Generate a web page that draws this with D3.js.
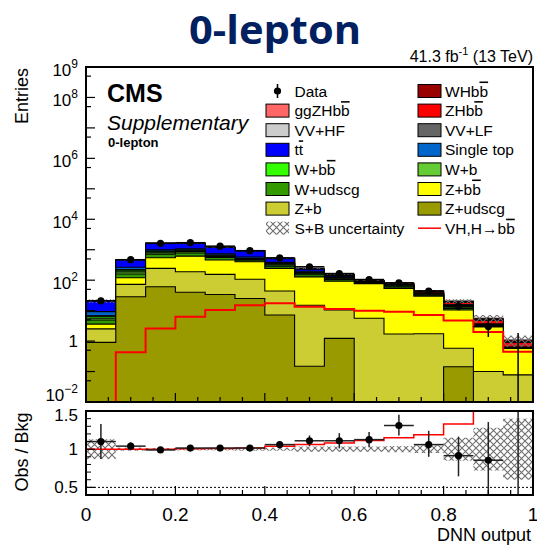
<!DOCTYPE html>
<html><head><meta charset="utf-8">
<script src="https://cdn.jsdelivr.net/npm/d3@7"></script>
<style>body{margin:0;background:#fff} svg{display:block} text{font-family:"Liberation Sans",Arial,Helvetica,sans-serif}</style>
</head><body><svg id="c" width="537" height="547"></svg>
<script>
// ---------------- DATA ----------------
const nBins = 15;
const dataVals  = [21, 470, 1620, 1700, 1310, 930, 540, 275, 165, 105, 82, 44, 14, 3, 0];
const dataErrHi = [5.6, 22.7, 40.7, 41.7, 37, 31, 24, 17, 13.9, 11.3, 10.1, 7.7, 4.8, 2.92, 1.84];
const dataErrLo = [4.5, 21.7, 39.7, 40.7, 36, 30, 23, 16, 12.8, 10.2, 9.0, 6.6, 3.7, 1.63, 0];

const zudscg = [0.91, 28.6, 61, 40, 34, 25, 7.2, 0.15, 1.23, 0, 0, 0, 0.144, 0, 0];
const zb     = [1.6, 44.4, 183, 150, 121, 82, 36.8, 14.85, 9.27, 5.6, 1.7, 1.75, 0.436, 0.1, 0.078];
const zbb    = [1.1, 47, 302, 425, 305, 298, 201, 113, 82.5, 71.4, 52.3, 28.25, 9.92, 2.85, 0.492];
const wudscg = [1.3, 40, 170, 170, 100, 50, 45, 22, 12, 3, 6, 2, 1.2, 0.2, 0.02];
const wb     = [0.7, 28, 80, 80, 45, 25, 25, 10, 6, 1.5, 3, 1, 0.8, 0.1, 0.01];
const wbb    = [0.7, 25, 64, 65, 30, 20, 20, 8, 5, 1.5, 3, 1.5, 1.2, 0.15, 0.015];
const vvlf   = [0.3, 8, 25, 25, 20, 15, 12, 8, 5, 1.5, 2, 1.5, 1.0, 0.1, 0.01];
const vvhf   = [0.2, 4, 15, 15, 12, 10, 8, 5, 3, 1, 1.5, 1, 0.8, 0.07, 0.005];
const stop   = [2.5, 40, 100, 100, 73, 50, 30, 15, 6, 1.5, 0.5, 0.3, 0.15, 0.01, 0];
const ttbar  = [11.4, 194, 617, 544, 450, 340, 122, 35.5, 13.7, 3, 0.8, 0.5, 0.25, 0.02, 0];
const zhbb   = [0, 0.26, 1.56, 3.8, 6.3, 9.0, 10.5, 8.1, 6.8, 6.0, 5.5, 4.3, 2.8, 1.2, 0.27];
const ggzhbb = [0, 0.06, 0.39, 0.9, 1.6, 2.25, 2.6, 2.0, 1.7, 1.5, 1.4, 1.1, 0.7, 0.3, 0.07];
const whbb   = [0, 0.11, 0.65, 1.6, 2.6, 3.75, 4.4, 3.4, 2.8, 2.5, 2.3, 1.8, 1.2, 0.5, 0.11];
const vhLine = [0, 0.43, 2.6, 6.3, 10.5, 15.0, 17.5, 13.5, 11.3, 10.0, 9.2, 7.2, 4.7, 2.0, 0.45];
const relUnc = [0.13, 0.02, 0.015, 0.015, 0.015, 0.02, 0.02, 0.035, 0.035, 0.035, 0.04, 0.05, 0.15, 0.28, 0.40];

const ratioData  = [1.10, 1.04, 0.99, 1.015, 1.015, 1.015, 1.06, 1.11, 1.11, 1.125, 1.31, 1.06, 0.915, 0.855, 0];
const ratioErrHi = [0.23, 0.05, 0.025, 0.025, 0.03, 0.035, 0.045, 0.07, 0.1, 0.1, 0.14, 0.18, 0.25, 0.5, 2.9];
const ratioErrLo = [0.23, 0.05, 0.025, 0.025, 0.03, 0.035, 0.045, 0.07, 0.1, 0.1, 0.13, 0.16, 0.27, 0.45, 0];
const ratioSig   = [1.0, 1.0, 1.0, 1.005, 1.01, 1.015, 1.04, 1.06, 1.08, 1.115, 1.15, 1.19, 1.33, 1.56, 1.72];

const xTickVals = [0, 0.2, 0.4, 0.6, 0.8, 1];
const xTickLabels = ["0", "0.2", "0.4", "0.6", "0.8", "1"];
const yLabelVals = [1e9, 1e8, 1e6, 1e4, 1e2, 1, 1e-2];
const yLabelExp  = ["9", "8", "6", "4", "2", "", "\u22122"];
const rTickVals = [0.5, 1, 1.5];
const rTickLabels = ["0.5", "1", "1.5"];

// stack, bottom to top
const comps = [
  {name:"Z+udscg", color:"#999900", vals:zudscg},
  {name:"Z+b", color:"#cccc33", vals:zb},
  {name:"Z+b{b}", color:"#ffff00", vals:zbb},
  {name:"W+udscg", color:"#339900", vals:wudscg},
  {name:"W+b", color:"#66cc33", vals:wb},
  {name:"W+b{b}", color:"#33ff00", vals:wbb},
  {name:"VV+LF", color:"#666666", vals:vvlf},
  {name:"VV+HF", color:"#cccccc", vals:vvhf},
  {name:"Single top", color:"#0066cc", vals:stop},
  {name:"t{t}", color:"#0000ff", vals:ttbar},
  {name:"ZHb{b}", color:"#ff0000", vals:zhbb},
  {name:"ggZHb{b}", color:"#ff6666", vals:ggzhbb},
  {name:"WHb{b}", color:"#990000", vals:whbb}
];

// ---------------- LAYOUT ----------------
const L = 86, R = 533, T = 67, B = 402, RT = 411, RB = 495;
const edges = d3.range(nBins + 1).map(i => i / nBins);
const x = d3.scaleLinear().domain([0, 1]).range([L, R]);
const y = d3.scaleLog().domain([1e-2, 1e9]).range([B, T]).clamp(true);
const yr = d3.scaleLinear().domain([0.4, 1.5]).range([RB, RT]);
const yv = v => y(Math.max(v, 1e-4));

const svg = d3.select("#c");
svg.append("rect").attr("width", 537).attr("height", 547).attr("fill", "#fff");
const defs = svg.append("defs");
const pat = defs.append("pattern").attr("id", "hatch").attr("patternUnits", "userSpaceOnUse").attr("width", 7).attr("height", 7);
pat.append("path").attr("d", "M-1,-1L8,8M8,-1L-1,8").attr("stroke", "#6e6e6e").attr("stroke-width", 1.1).attr("fill", "none");
defs.append("clipPath").attr("id", "clipTop").append("rect").attr("x", L).attr("y", T).attr("width", R - L).attr("height", B - T);
defs.append("clipPath").attr("id", "clipRat").append("rect").attr("x", L).attr("y", RT).attr("width", R - L).attr("height", RB - RT);

// cumulative
let cum = new Array(nBins).fill(0);
const cums = comps.map(c => { cum = cum.map((v, i) => v + c.vals[i]); return cum.slice(); });
const total = cums[cums.length - 1];

const stepPts = vals => edges.map((e, i) => ({e, v: vals[Math.min(i, nBins - 1)]}));
const areaTop = d3.area().curve(d3.curveStepAfter).x(d => x(d.e)).y0(B).y1(d => yv(d.v));

const gTop = svg.append("g").attr("clip-path", "url(#clipTop)");
for (let k = comps.length - 1; k >= 0; k--) {
  gTop.append("path").attr("d", areaTop(stepPts(cums[k]))).attr("fill", comps[k].color)
    .attr("stroke", "#000").attr("stroke-width", 1.1);
}
// uncertainty band
gTop.selectAll("rect.unc").data(d3.range(nBins)).join("rect").attr("class", "unc")
  .attr("x", i => x(edges[i])).attr("width", i => x(edges[i + 1]) - x(edges[i]))
  .attr("y", i => yv(total[i] * (1 + relUnc[i])))
  .attr("height", i => yv(total[i] * (1 - relUnc[i])) - yv(total[i] * (1 + relUnc[i])))
  .attr("fill", "url(#hatch)");
// signal line
gTop.append("path").attr("d", d3.line().x(d => x(d.e)).y(d => yv(d.v)).curve(d3.curveStepAfter)(stepPts(vhLine)))
  .attr("fill", "none").attr("stroke", "#ff0000").attr("stroke-width", 2);
// data
const centers = d3.range(nBins).map(i => (edges[i] + edges[i + 1]) / 2);
const gD = gTop.append("g");
d3.range(nBins).forEach(i => {
  const v = dataVals[i];
  gD.append("line").attr("x1", x(centers[i])).attr("x2", x(centers[i]))
    .attr("y1", yv(v + dataErrHi[i])).attr("y2", yv(v - dataErrLo[i])).attr("stroke", "#000").attr("stroke-width", 1.5);
  if (v > 0) {
    gD.append("line").attr("x1", x(edges[i])).attr("x2", x(edges[i + 1])).attr("y1", yv(v)).attr("y2", yv(v))
      .attr("stroke", "#000").attr("stroke-width", 1.5);
    gD.append("circle").attr("cx", x(centers[i])).attr("cy", yv(v)).attr("r", 3.6).attr("fill", "#000");
  }
});

// ratio panel
const gR = svg.append("g").attr("clip-path", "url(#clipRat)");
gR.selectAll("rect.unc").data(d3.range(nBins)).join("rect")
  .attr("x", i => x(edges[i])).attr("width", i => x(edges[i + 1]) - x(edges[i]))
  .attr("y", i => yr(1 + relUnc[i])).attr("height", i => yr(1 - relUnc[i]) - yr(1 + relUnc[i]))
  .attr("fill", "url(#hatch)");
gR.append("line").attr("x1", L).attr("x2", R).attr("y1", yr(0.5)).attr("y2", yr(0.5))
  .attr("stroke", "#000").attr("stroke-width", 1).attr("stroke-dasharray", "2,2");
gR.append("path").attr("d", d3.line().x(d => x(d.e)).y(d => yr(d.v)).curve(d3.curveStepAfter)(stepPts(ratioSig)))
  .attr("fill", "none").attr("stroke", "#ff0000").attr("stroke-width", 1.5);
d3.range(nBins).forEach(i => {
  const v = ratioData[i];
  gR.append("line").attr("x1", x(centers[i])).attr("x2", x(centers[i]))
    .attr("y1", yr(v + ratioErrHi[i])).attr("y2", yr(v - ratioErrLo[i])).attr("stroke", "#222").attr("stroke-width", 1.5);
  if (v > 0) {
    gR.append("line").attr("x1", x(edges[i])).attr("x2", x(edges[i + 1])).attr("y1", yr(v)).attr("y2", yr(v))
      .attr("stroke", "#222").attr("stroke-width", 1.5);
    gR.append("circle").attr("cx", x(centers[i])).attr("cy", yr(v)).attr("r", 3.6).attr("fill", "#000");
  }
});

// frames
[[T, B], [RT, RB]].forEach(([t, b]) => {
  svg.append("rect").attr("x", L).attr("y", t).attr("width", R - L).attr("height", b - t)
    .attr("fill", "none").attr("stroke", "#000").attr("stroke-width", 2);
});

// x ticks
const minorX = d3.range(0, 21).map(i => i * 0.05);
[B, RB].forEach(b => {
  minorX.forEach(v => {
    const major = Math.abs(v * 5 - Math.round(v * 5)) < 1e-6;
    svg.append("line").attr("x1", x(v)).attr("x2", x(v)).attr("y1", b).attr("y2", b - (major ? 9 : 5))
      .attr("stroke", "#000").attr("stroke-width", 1.2);
  });
});
// y ticks (log)
d3.range(-2, 10).forEach(p => {
  svg.append("line").attr("x1", L).attr("x2", L + 9).attr("y1", y(Math.pow(10, p))).attr("y2", y(Math.pow(10, p)))
    .attr("stroke", "#000").attr("stroke-width", 1.2);
  if (p < 9) {
    const m = 5 * Math.pow(10, p);
    svg.append("line").attr("x1", L).attr("x2", L + 5).attr("y1", y(m)).attr("y2", y(m))
      .attr("stroke", "#000").attr("stroke-width", 1.2);
  }
});
// ratio y ticks
rTickVals.forEach(v => {
  svg.append("line").attr("x1", L).attr("x2", L + 9).attr("y1", yr(v)).attr("y2", yr(v)).attr("stroke", "#000").attr("stroke-width", 1.2);
});
[0.6, 0.7, 0.8, 0.9, 1.1, 1.2, 1.3, 1.4].forEach(v => {
  svg.append("line").attr("x1", L).attr("x2", L + 5).attr("y1", yr(v)).attr("y2", yr(v)).attr("stroke", "#000").attr("stroke-width", 1);
});

// labels
const fs = 17;
yLabelVals.forEach((v, i) => {
  const t = svg.append("text").attr("x", 78).attr("text-anchor", "end").attr("font-size", fs);
  if (yLabelExp[i] === "") { t.attr("y", y(v) + 6).text("1"); }
  else {
    t.attr("y", v === 1e-2 ? y(v) - 1 : y(v) + 9);
    t.append("tspan").text("10");
    t.append("tspan").attr("font-size", 12).attr("dy", -8).text(yLabelExp[i]);
  }
});
rTickVals.forEach((v, i) => {
  svg.append("text").attr("x", 78).attr("y", yr(v) + (v === 1.5 ? 10 : 6)).attr("text-anchor", "end").attr("font-size", fs).text(rTickLabels[i]);
});
xTickVals.forEach((v, i) => {
  svg.append("text").attr("x", x(v)).attr("y", 521).attr("text-anchor", "middle").attr("font-size", 19).text(xTickLabels[i]);
});
svg.append("text").attr("x", 531).attr("y", 541).attr("text-anchor", "end").attr("font-size", 18).text("DNN output");
svg.append("text").attr("transform", "translate(28,68) rotate(-90)").attr("text-anchor", "end").attr("font-size", 18).text("Entries");
svg.append("text").attr("transform", "translate(28,452) rotate(-90)").attr("text-anchor", "middle").attr("font-size", 18).text("Obs / Bkg");

// title and CMS labels
svg.append("text").attr("x", 275).attr("y", 44).attr("text-anchor", "middle")
  .style("font-family", "'Open Sans',sans-serif").attr("font-weight", "bold").attr("font-size", 40)
  .attr("textLength", 172).attr("lengthAdjust", "spacingAndGlyphs").attr("fill", "#002060").text("0-lepton");
const lumi = svg.append("text").attr("x", 533).attr("y", 62).attr("text-anchor", "end").attr("font-size", 16);
lumi.append("tspan").text("41.3 fb");
lumi.append("tspan").attr("font-size", 11).attr("dy", -7).text("-1");
lumi.append("tspan").attr("dy", 7).text(" (13 TeV)");
svg.append("text").attr("x", 107).attr("y", 102).attr("font-weight", "bold").attr("font-size", 25).text("CMS");
svg.append("text").attr("x", 107).attr("y", 130).attr("font-style", "italic").attr("font-size", 21).text("Supplementary");
svg.append("text").attr("x", 108).attr("y", 147).attr("font-weight", "bold").attr("font-size", 13).text("0-lepton");

// legend
function addLabel(g, xx, yy, label) {
  const t = g.append("text").attr("x", xx).attr("y", yy + 5.5).attr("font-size", 15.5);
  label.split(/(\{[^}]*\})/).filter(s => s.length).forEach(s => {
    if (s[0] === "{") t.append("tspan").style("text-decoration", "overline").text(s.slice(1, -1));
    else t.append("tspan").text(s);
  });
}
const byName = n => comps.find(c => c.name === n);
const legCol1 = ["Data", "ggZHb{b}", "VV+HF", "t{t}", "W+b{b}", "W+udscg", "Z+b", "S+B uncertainty"];
const legCol2 = ["WHb{b}", "ZHb{b}", "VV+LF", "Single top", "W+b", "Z+b{b}", "Z+udscg", "VH,H\u2192b{b}"];
const legRowY = d3.range(8).map(i => 91 + i * 19.6);
const gL = svg.append("g");
[[legCol1, 266, 294.5], [legCol2, 418, 445]].forEach(([col, bx, tx]) => {
  col.forEach((name, i) => {
    const yy = legRowY[i];
    if (name === "Data") {
      gL.append("line").attr("x1", bx + 11.5).attr("x2", bx + 11.5).attr("y1", yy - 7).attr("y2", yy + 7).attr("stroke", "#000").attr("stroke-width", 1.5);
      gL.append("circle").attr("cx", bx + 11.5).attr("cy", yy).attr("r", 3.6).attr("fill", "#000");
    } else if (name === "S+B uncertainty") {
      gL.append("rect").attr("x", bx).attr("y", yy - 6.5).attr("width", 23).attr("height", 13).attr("fill", "url(#hatch)");
    } else if (name.startsWith("VH")) {
      gL.append("line").attr("x1", bx).attr("x2", bx + 23).attr("y1", yy).attr("y2", yy).attr("stroke", "#ff0000").attr("stroke-width", 1.5);
    } else {
      gL.append("rect").attr("x", bx).attr("y", yy - 6.5).attr("width", 23).attr("height", 13)
        .attr("fill", byName(name).color).attr("stroke", "#000").attr("stroke-width", 1);
    }
    addLabel(gL, tx, yy, name);
  });
});
</script></body></html>
